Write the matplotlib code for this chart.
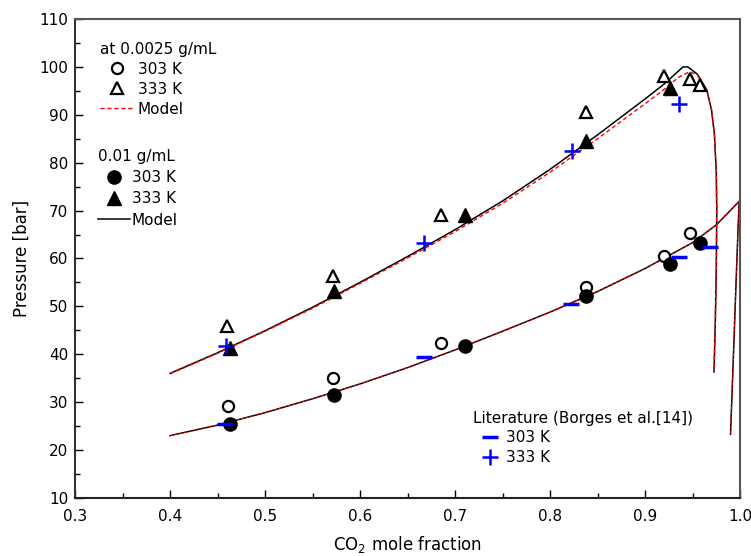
import numpy as np
import matplotlib.pyplot as plt
from matplotlib.lines import Line2D

plt.rcParams['font.family'] = ['DejaVu Sans']
plt.rcParams['font.size'] = 11

# experimental data, 0.0025 g/mL
x_o303 = [0.461, 0.572, 0.685, 0.838, 0.920, 0.947]
p_o303 = [29.2, 35.0, 42.4, 54.0, 60.5, 65.3]
x_o333 = [0.460, 0.572, 0.685, 0.838, 0.920, 0.947, 0.958]
p_o333 = [46.0, 56.3, 69.0, 90.5, 98.0, 97.5, 96.3]

# experimental data, 0.01 g/mL
x_f303 = [0.463, 0.573, 0.710, 0.838, 0.926, 0.958]
p_f303 = [25.4, 31.4, 41.7, 52.1, 58.9, 63.2]
x_f333 = [0.463, 0.573, 0.710, 0.838, 0.926]
p_f333 = [41.3, 53.3, 69.1, 84.5, 95.5]

# literature (Borges et al.)
x_l303 = [0.458, 0.667, 0.822, 0.936, 0.968]
p_l303 = [25.5, 39.5, 50.4, 60.3, 62.3]
x_l333 = [0.459, 0.667, 0.823, 0.936]
p_l333 = [41.8, 63.3, 82.5, 92.2]

# model, 0.01 g/mL (solid)
xm_333 = [0.40, 0.45, 0.50, 0.55, 0.60, 0.65, 0.70, 0.75, 0.80, 0.85, 0.90,
          0.92, 0.93, 0.94, 0.945, 0.955, 0.965, 0.970, 0.973, 0.975,
          0.9755, 0.975, 0.974, 0.9726]
pm_333 = [36.0, 40.3, 44.9, 49.8, 55.0, 60.4, 66.0, 72.0, 78.6, 85.8, 93.3,
          96.4, 98.2, 100.0, 100.0, 98.5, 95.2, 91.0, 86.0, 78.0,
          70.0, 58.0, 47.0, 36.3]
xm_303 = [0.40, 0.45, 0.50, 0.55, 0.60, 0.65, 0.70, 0.75, 0.80, 0.85, 0.90,
          0.95, 0.975, 0.999, 0.996, 0.993, 0.990]
pm_303 = [23.0, 25.2, 27.8, 30.7, 33.8, 37.2, 40.9, 44.8, 48.8, 53.1, 57.9,
          63.3, 67.0, 71.9, 56.0, 39.5, 23.3]

# model, 0.0025 g/mL (dashed)
xd_333 = [0.40, 0.45, 0.50, 0.55, 0.60, 0.65, 0.70, 0.75, 0.80, 0.85, 0.90,
          0.92, 0.935, 0.947, 0.955, 0.965, 0.970, 0.973, 0.975,
          0.9755, 0.975, 0.974, 0.9726]
pd_333 = [35.9, 40.2, 44.8, 49.6, 54.8, 60.1, 65.6, 71.5, 78.0, 85.0, 92.3,
          95.3, 97.8, 99.0, 98.3, 95.0, 91.0, 86.0, 78.0,
          70.0, 58.0, 47.0, 36.3]
xd_303 = xm_303
pd_303 = pm_303

fig = plt.figure(figsize=(7.51, 5.56), dpi=100)
ax = fig.add_axes([0.0999, 0.1045, 0.8855, 0.8613])

ax.plot(xm_333, pm_333, color='black', lw=1.1)
ax.plot(xm_303, pm_303, color='black', lw=1.1)
ax.plot(xd_333, pd_333, color='red', lw=1.0, ls=(0, (3, 2)))
ax.plot(xd_303, pd_303, color='red', lw=0.7, ls=(0, (3, 2)))

ms = 8
ax.plot(x_o303, p_o303, 'o', mfc='white', mec='black', mew=1.6, ms=ms, ls='none')
ax.plot(x_o333, p_o333, '^', mfc='white', mec='black', mew=1.6, ms=ms, ls='none')
ax.plot(x_f303, p_f303, 'o', color='black', ms=9.5, ls='none')
ax.plot(x_f333, p_f333, '^', color='black', ms=9.5, ls='none')
ax.plot(x_l303, p_l303, '_', color='blue', mew=2.5, ms=12, ls='none')
ax.plot(x_l333, p_l333, '+', color='blue', mew=1.8, ms=11, ls='none')

ax.set_xlim(0.3, 1.0)
ax.set_ylim(10, 110)
ax.set_xticks(np.arange(0.3, 1.01, 0.1))
ax.set_xticklabels(['0.3', '0.4', '0.5', '0.6', '0.7', '0.8', '0.9', '1.0'])
ax.set_xticks(np.arange(0.35, 1.0, 0.1), minor=True)
ax.set_yticks(np.arange(10, 111, 10))
ax.set_yticks(np.arange(15, 110, 10), minor=True)
ax.tick_params(which='both', direction='in', top=False, right=False)
ax.tick_params(which='major', length=6, width=1)
ax.tick_params(which='minor', length=3.5, width=1)
ax.tick_params(axis='x', pad=8)
ax.tick_params(axis='y', pad=5)
for s in ax.spines.values():
    s.set_color('#555555')
    s.set_linewidth(1.5)
ax.spines['left'].set_color('#333333')
ax.spines['bottom'].set_color('#222222')

ax.set_xlabel('CO$_2$ mole fraction', fontsize=12, labelpad=7)
ax.set_ylabel('Pressure [bar]', fontsize=12, labelpad=6)

h1 = [Line2D([], [], marker='o', mfc='white', mec='black', mew=1.6, ms=ms, ls='none'),
      Line2D([], [], marker='^', mfc='white', mec='black', mew=1.6, ms=ms, ls='none'),
      Line2D([], [], color='red', lw=1.0, ls=(0, (3, 2)))]
leg1 = ax.legend(h1, ['303 K', '333 K', 'Model'], title='at 0.0025 g/mL',
                 loc='upper left', bbox_to_anchor=(0.038, 0.953), frameon=False,
                 alignment='left', handlelength=2.2, handletextpad=0.25,
                 labelspacing=0.33, borderpad=0, borderaxespad=0,
                 fontsize=11, title_fontsize=11)
ax.add_artist(leg1)

h2 = [Line2D([], [], marker='o', color='black', ms=9.5, ls='none'),
      Line2D([], [], marker='^', color='black', ms=9.5, ls='none'),
      Line2D([], [], color='black', lw=1.1)]
leg2 = ax.legend(h2, ['303 K', '333 K', 'Model'], title='0.01 g/mL',
                 loc='upper left', bbox_to_anchor=(0.035, 0.728), frameon=False,
                 alignment='left', handlelength=2.1, handletextpad=0.1,
                 labelspacing=0.4, borderpad=0, borderaxespad=0,
                 fontsize=11, title_fontsize=11)
ax.add_artist(leg2)

h3 = [Line2D([], [], marker='_', color='blue', mew=2.5, ms=12, ls='none'),
      Line2D([], [], marker='+', color='blue', mew=1.8, ms=11, ls='none')]
ax.legend(h3, ['303 K', '333 K'], title='Literature (Borges et al.[14])',
          loc='upper left', bbox_to_anchor=(0.598, 0.182), frameon=False,
          alignment='left', handlelength=2.2, handletextpad=0.0,
          labelspacing=0.3, borderpad=0, borderaxespad=0,
          fontsize=11, title_fontsize=11)

fig.savefig('out.png', dpi=100)
